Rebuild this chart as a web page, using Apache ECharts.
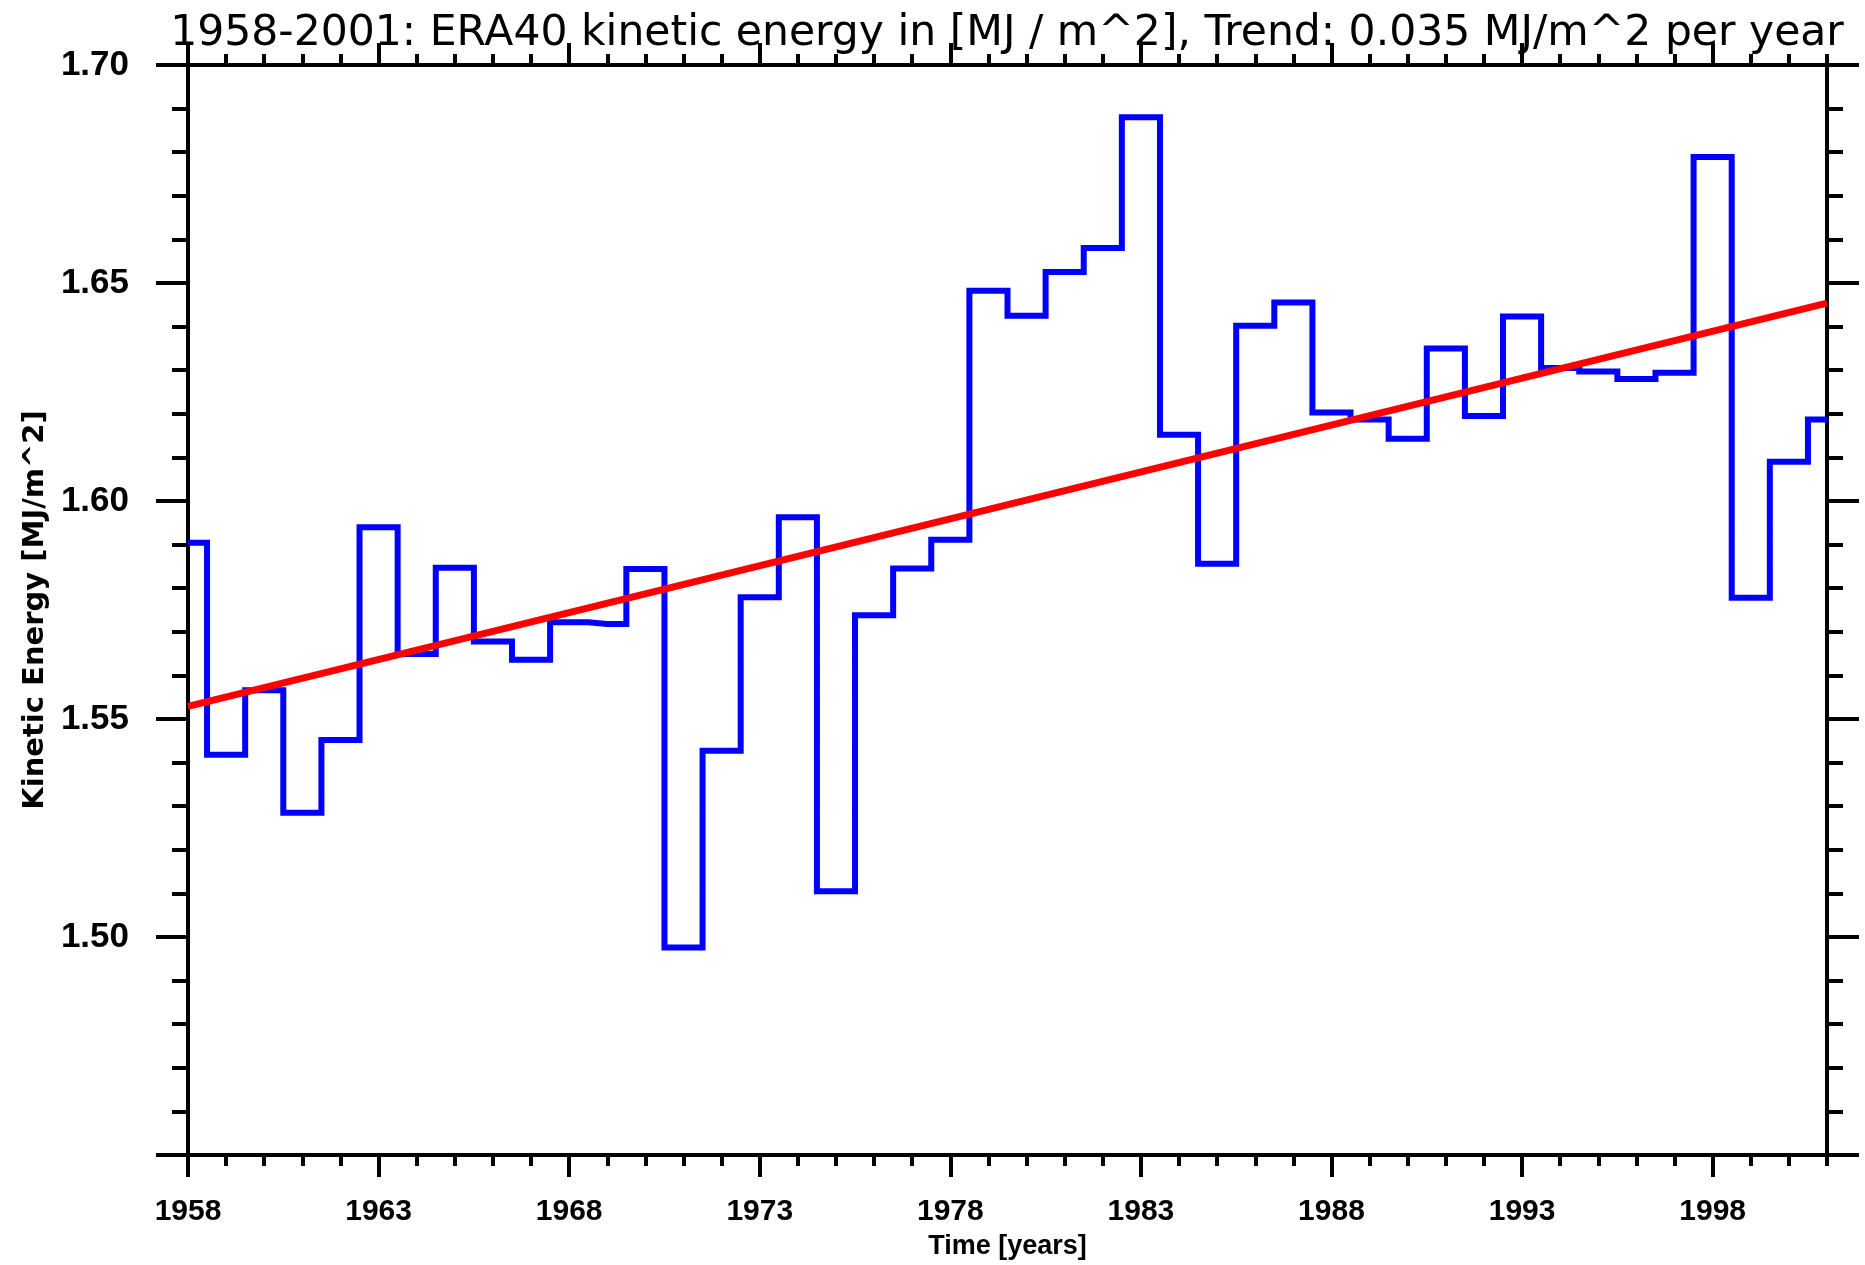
<!DOCTYPE html>
<html><head><meta charset="utf-8">
<script src="https://cdn.jsdelivr.net/npm/echarts@6/dist/echarts.min.js"></script>
<style>html,body{margin:0;padding:0;background:#fff}#c{width:1865px;height:1265px}</style>
</head><body><div id="c"></div>
<script>
const years = [1958,1959,1960,1961,1962,1963,1964,1965,1966,1967,1968,1969,1970,1971,1972,1973,1974,1975,1976,1977,1978,1979,1980,1981,1982,1983,1984,1985,1986,1987,1988,1989,1990,1991,1992,1993,1994,1995,1996,1997,1998,1999,2000,2001];
const energy = [1.5904,1.5418,1.5566,1.5285,1.5452,1.5940,1.5649,1.5847,1.5678,1.5636,1.5722,1.5718,1.5844,1.4976,1.5427,1.5779,1.5963,1.5105,1.5738,1.5845,1.5911,1.6482,1.6425,1.6525,1.6580,1.6880,1.6152,1.5856,1.6402,1.6455,1.6203,1.6187,1.6143,1.6350,1.6195,1.6423,1.6305,1.6297,1.6280,1.6294,1.6789,1.5778,1.6090,1.6187];
const trendYears = [1958, 2001];
const trendValues = [1.5529, 1.6454];
const xMajorTicks = [1958,1963,1968,1973,1978,1983,1988,1993,1998];
const yLabelValues = [1.50,1.55,1.60,1.65,1.70];
const titleText = '1958-2001: ERA40 kinetic energy in [MJ / m^2], Trend: 0.035 MJ/m^2 per year';
const xName = 'Time [years]';
const yName = 'Kinetic Energy [MJ/m^2]';

const chart = echarts.init(document.getElementById('c'), null, {renderer: 'canvas'});
const black = '#000';
const axLine = {show: true, onZero: false, lineStyle: {color: black, width: 4}};

function xAxisDef(pos, major, withLabels) {
  const a = {
    type: 'value', position: pos, min: 1958, max: 2001, gridIndex: 0,
    axisLine: axLine, splitLine: {show: false},
    axisTick: {show: true, inside: false, length: major ? 22 : 11,
      lineStyle: {color: black, width: 4}, customValues: major ? xMajorTicks : years},
    axisLabel: {show: false}
  };
  if (withLabels) {
    a.axisLabel = {show: true, customValues: xMajorTicks, margin: 42,
      fontFamily: "'Liberation Sans Narrow','Liberation Sans',sans-serif", fontWeight: 'bold',
      fontSize: 30, color: black, formatter: v => String(Math.round(v))};
    a.name = xName;
    a.nameLocation = 'middle';
    a.nameGap = 78;
    a.nameTextStyle = {fontFamily: "'Liberation Sans',sans-serif", fontWeight: 'bold', fontSize: 27, color: black};
  }
  return a;
}
function yAxisDef(pos, withLabels) {
  const a = {
    type: 'value', position: pos, min: 1.45, max: 1.70, interval: 0.05, gridIndex: 0,
    axisLine: axLine, splitLine: {show: false}, minorSplitLine: {show: false},
    axisTick: {show: true, inside: false, length: 32, lineStyle: {color: black, width: 4}},
    minorTick: {show: true, splitNumber: 5, length: 16, lineStyle: {color: black, width: 4}},
    axisLabel: {show: false}
  };
  if (withLabels) {
    a.axisLabel = {show: true, customValues: yLabelValues, margin: 59, padding: [8, 0, 0, 0],
      fontFamily: "'Liberation Sans',sans-serif", fontWeight: 'bold', fontSize: 35, color: black,
      formatter: v => Number(v).toFixed(2)};
    a.name = yName;
    a.nameLocation = 'middle';
    a.nameRotate = 90;
    a.nameGap = 136;
    a.nameTextStyle = {fontFamily: "'DejaVu Sans',sans-serif", fontWeight: 'bold', fontSize: 29, color: black};
  }
  return a;
}

const option = {
  animation: false,
  backgroundColor: '#fff',
  title: {
    text: titleText, left: 1002, top: 7, textAlign: 'center',
    textStyle: {fontFamily: "'DejaVu Sans',sans-serif", fontWeight: 'normal', fontSize: 42.5, color: black}
  },
  grid: {left: 188, top: 65, width: 1639, height: 1097, containLabel: false},
  xAxis: [
    xAxisDef('bottom', true, true),
    xAxisDef('bottom', false, false),
    xAxisDef('top', true, false),
    xAxisDef('top', false, false)
  ],
  yAxis: [
    yAxisDef('left', true),
    yAxisDef('right', false)
  ],
  series: [
    {
      type: 'line', xAxisIndex: 0, yAxisIndex: 0, step: 'middle', showSymbol: false, symbol: 'none',
      data: years.map((y, i) => [y, energy[i]]),
      lineStyle: {color: '#0000ff', width: 6, join: 'miter', cap: 'butt'}, z: 2
    },
    {
      type: 'line', xAxisIndex: 0, yAxisIndex: 0, showSymbol: false, symbol: 'none',
      data: trendYears.map((y, i) => [y, trendValues[i]]),
      lineStyle: {color: '#ff0000', width: 7}, z: 3
    }
  ]
};
chart.setOption(option);
</script></body></html>
